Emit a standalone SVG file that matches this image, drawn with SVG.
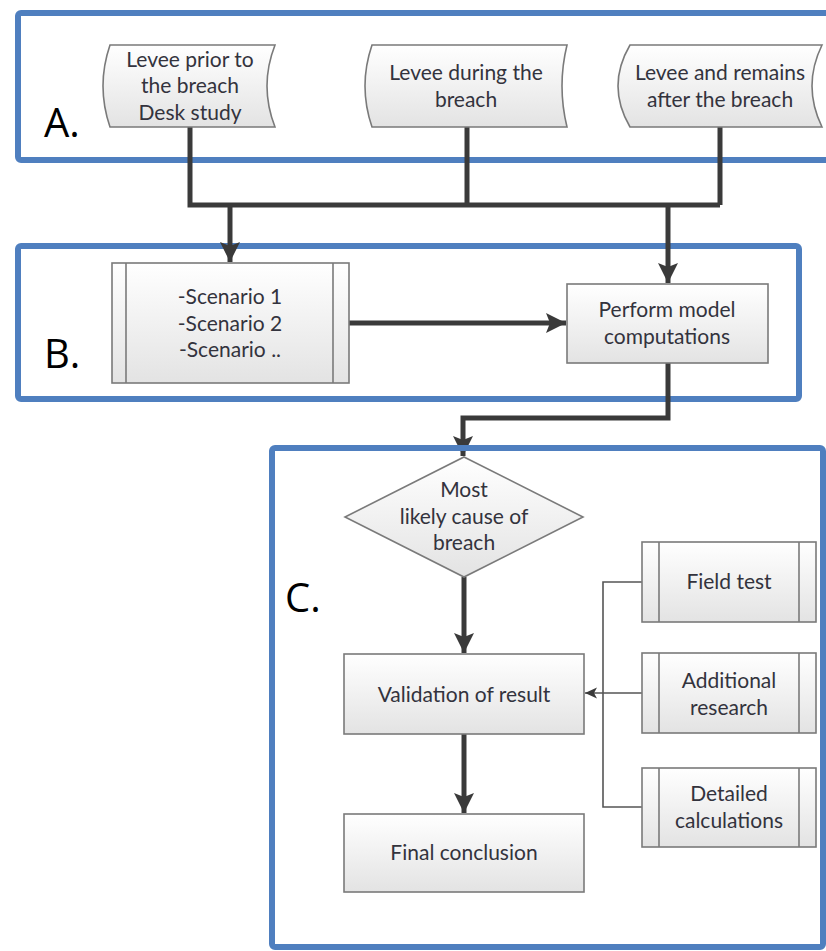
<svg xmlns="http://www.w3.org/2000/svg" width="826" height="951" viewBox="0 0 826 951">
<defs>
<linearGradient id="g" x1="0" y1="0" x2="0" y2="1">
<stop offset="0" stop-color="#ffffff"/>
<stop offset="1" stop-color="#e3e3e3"/>
</linearGradient>
<marker id="ah" markerUnits="userSpaceOnUse" markerWidth="24" markerHeight="24" viewBox="0 0 24 24" refX="20" refY="12" orient="auto">
<path d="M0,2 L20,12 L0,22 L4,12 Z" fill="#3a3a3a"/>
</marker>
<marker id="ahs" markerUnits="userSpaceOnUse" markerWidth="14" markerHeight="14" viewBox="0 0 14 14" refX="12" refY="7" orient="auto">
<path d="M0,1.5 L12,7 L0,12.5 L3,7 Z" fill="#3a3a3a"/>
</marker>
</defs>
<style>
.frame{fill:none;stroke:#4f7fbf;stroke-width:6}
.node{fill:url(#g);stroke:#7a7a7a;stroke-width:1.6}
.in{stroke:#7a7a7a;stroke-width:1.6}
.t{font-family:Lato,"Liberation Sans",sans-serif;font-size:21px;fill:#33333d;text-anchor:middle}
.lbl{font-family:"Open Sans","Liberation Sans",sans-serif;font-size:40px;fill:#000}
.thick{fill:none;stroke:#3a3a3a;stroke-width:5}
.thin{fill:none;stroke:#555;stroke-width:1.6}
</style>
<rect width="826" height="951" fill="#fff"/>
<g id="frames">
<rect class="frame" x="18" y="13" width="830" height="147" rx="3"/>
<rect class="frame" x="18" y="246" width="781" height="153" rx="3"/>
<rect class="frame" x="272" y="448" width="551" height="499" rx="3"/>
<text class="lbl" x="44" y="137">A.</text>
<text class="lbl" x="44" y="368">B.</text>
<text class="lbl" x="285" y="612">C.</text>
</g>
<g id="connectors">
<path class="thick" d="M190,127 V205 H720 M467,127 V205 M720,127 V205"/>
<path class="thick" d="M230,205 V262" marker-end="url(#ah)"/>
<path class="thick" d="M668,205 V283" marker-end="url(#ah)"/>
<path class="thick" d="M349,323 H566" marker-end="url(#ah)"/>
<path class="thick" d="M668,363 V418 H463 V456" marker-end="url(#ah)"/>
<path class="thick" d="M464,577 V653" marker-end="url(#ah)"/>
<path class="thick" d="M464,734 V813" marker-end="url(#ah)"/>
<path class="thin" d="M642,582 H603 V807 H642 M642,693 H585" marker-end="url(#ahs)"/>
</g>
<g id="frameC-top">
<path d="M275,448 H820" stroke="#4f7fbf" stroke-width="6"/>
</g>
<g id="a1">
<path class="node" d="M110,45 L275,45 Q259,86 275,127 L110,127 Q96,86 110,45 Z"/>
<text class="t" x="190" y="67">Levee prior to</text>
<text class="t" x="190" y="93">the breach</text>
<text class="t" x="190" y="120">Desk study</text>
</g>
<g id="a2">
<path class="node" d="M372,45 L567,45 Q557,86 567,127 L372,127 Q358,86 372,45 Z"/>
<text class="t" x="466" y="80">Levee during the</text>
<text class="t" x="466" y="107">breach</text>
</g>
<g id="a3">
<path class="node" d="M630,45 L822,45 Q802,86 822,127 L630,127 Q606,86 630,45 Z"/>
<text class="t" x="720" y="80">Levee and remains</text>
<text class="t" x="720" y="107">after the breach</text>
</g>
<g id="scenarios">
<rect class="node" x="112" y="263" width="237" height="120"/>
<line class="in" x1="126" y1="263" x2="126" y2="383"/>
<line class="in" x1="333" y1="263" x2="333" y2="383"/>
<text class="t" x="230" y="304">-Scenario 1</text>
<text class="t" x="230" y="331">-Scenario 2</text>
<text class="t" x="230" y="357">-Scenario ..</text>
</g>
<g id="perform">
<rect class="node" x="567" y="284" width="201" height="79"/>
<text class="t" x="667" y="317">Perform model</text>
<text class="t" x="667" y="344">computations</text>
</g>
<g id="cause">
<path class="node" d="M464,457 L583,517 L464,577 L345,517 Z"/>
<text class="t" x="464" y="497">Most</text>
<text class="t" x="464" y="524">likely cause of</text>
<text class="t" x="464" y="550">breach</text>
</g>
<g id="validation">
<rect class="node" x="344" y="654" width="240" height="80"/>
<text class="t" x="464" y="702">Validation of result</text>
</g>
<g id="final">
<rect class="node" x="344" y="814" width="240" height="78"/>
<text class="t" x="464" y="860">Final conclusion</text>
</g>
<g id="fieldtest">
<rect class="node" x="642" y="542" width="174" height="80"/>
<line class="in" x1="659" y1="542" x2="659" y2="622"/>
<line class="in" x1="799" y1="542" x2="799" y2="622"/>
<text class="t" x="729" y="589">Field test</text>
</g>
<g id="research">
<rect class="node" x="642" y="653" width="174" height="80"/>
<line class="in" x1="659" y1="653" x2="659" y2="733"/>
<line class="in" x1="799" y1="653" x2="799" y2="733"/>
<text class="t" x="729" y="688">Additional</text>
<text class="t" x="729" y="715">research</text>
</g>
<g id="detailed">
<rect class="node" x="642" y="768" width="174" height="79"/>
<line class="in" x1="659" y1="768" x2="659" y2="847"/>
<line class="in" x1="799" y1="768" x2="799" y2="847"/>
<text class="t" x="729" y="801">Detailed</text>
<text class="t" x="729" y="828">calculations</text>
</g>
</svg>
